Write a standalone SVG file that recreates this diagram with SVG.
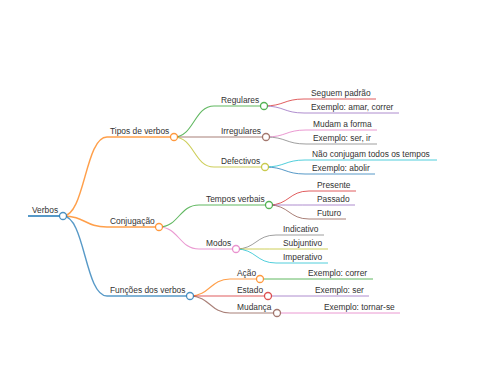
<svg xmlns="http://www.w3.org/2000/svg" width="480" height="384" viewBox="0 0 480 384">
<style>
text{font-family:"Liberation Sans",Arial,sans-serif;font-size:8.4px;fill:#333}
path{fill:none;stroke-opacity:0.75}
circle{fill:#fff;stroke-width:1.3;stroke-opacity:0.8}
.l0{stroke-width:2}
.l1{stroke-width:1.4}
.l2{stroke-width:1.1}
.l3{stroke-width:1}
.blue{stroke:#1f77b4}.orange{stroke:#ff7f0e}.green{stroke:#2ca02c}.red{stroke:#d62728}
.purple{stroke:#9467bd}.brown{stroke:#8c564b}.pink{stroke:#e377c2}.gray{stroke:#7f7f7f}
.olive{stroke:#bcbd22}.cyan{stroke:#17becf}
</style>
<rect width="480" height="384" fill="#fff"/>
<g id="connectors">
<path class="l0 blue" d="M28,216H63"/>
<path class="l1 orange" d="M63,216C85,216 85,137 107,137H174"/>
<path class="l1 orange" d="M63,216C85,216 85,227 107,227H159"/>
<path class="l1 blue" d="M63,216C85,216 85,296 107,296H190"/>
<path class="l2 green" d="M174,137C194,137 194,106 214,106H264"/>
<path class="l2 brown" d="M174,137C194,137 194,137 214,137H266"/>
<path class="l2 olive" d="M174,137C194,137 194,167 214,167H265"/>
<path class="l3 red" d="M264,106C284,106 284,99 304,99H376"/>
<path class="l3 purple" d="M264,106C284,106 284,113 304,113H399"/>
<path class="l3 pink" d="M266,137C286,137 286,130 306,130H377"/>
<path class="l3 gray" d="M266,137C286,137 286,144 306,144H377"/>
<path class="l3 cyan" d="M265,167C285,167 285,160 305,160H437"/>
<path class="l3 blue" d="M265,167C285,167 285,174 305,174H375"/>
<path class="l2 green" d="M159,227C179,227 179,205 199,205H269"/>
<path class="l2 pink" d="M159,227C179,227 179,249 199,249H236"/>
<path class="l3 red" d="M269,205C289,205 289,191 309,191H356"/>
<path class="l3 purple" d="M269,205C289,205 289,205 309,205H355"/>
<path class="l3 brown" d="M269,205C289,205 289,219 309,219H346"/>
<path class="l3 gray" d="M236,249C256,249 256,235 276,235H324"/>
<path class="l3 olive" d="M236,249C256,249 256,249 276,249H328"/>
<path class="l3 cyan" d="M236,249C256,249 256,263 276,263H328"/>
<path class="l2 orange" d="M190,296C210,296 210,279 230,279H260"/>
<path class="l2 red" d="M190,296C210,296 210,296 230,296H268"/>
<path class="l2 brown" d="M190,296C210,296 210,313 230,313H277"/>
<path class="l3 green" d="M260,279H373"/>
<path class="l3 purple" d="M268,296H369"/>
<path class="l3 pink" d="M277,313H400"/>
</g>
<g id="n-verbos"><text x="32" y="212.5">Verbos</text><circle class="blue" cx="63" cy="216" r="3.5"/></g>
<g id="n-tipos"><text x="110" y="133.5">Tipos de verbos</text><circle class="orange" cx="174" cy="137" r="3.5"/></g>
<g id="n-regulares"><text x="221" y="102.5">Regulares</text><circle class="green" cx="264" cy="106" r="3.5"/></g>
<g id="n-seguem"><text x="311" y="95.5">Seguem padrão</text></g>
<g id="n-ex-amar"><text x="311" y="109.5">Exemplo: amar, correr</text></g>
<g id="n-irregulares"><text x="221" y="133.5">Irregulares</text><circle class="brown" cx="266" cy="137" r="3.5"/></g>
<g id="n-mudam"><text x="313" y="126.5">Mudam a forma</text></g>
<g id="n-ex-ser-ir"><text x="313" y="140.5">Exemplo: ser, ir</text></g>
<g id="n-defectivos"><text x="221" y="163.5">Defectivos</text><circle class="olive" cx="265" cy="167" r="3.5"/></g>
<g id="n-nao"><text x="312" y="156.5">Não conjugam todos os tempos</text></g>
<g id="n-ex-abolir"><text x="312" y="170.5">Exemplo: abolir</text></g>
<g id="n-conjugacao"><text x="110" y="223.5">Conjugação</text><circle class="orange" cx="159" cy="227" r="3.5"/></g>
<g id="n-tempos"><text x="206" y="201.5">Tempos verbais</text><circle class="green" cx="269" cy="205" r="3.5"/></g>
<g id="n-presente"><text x="317" y="187.5">Presente</text></g>
<g id="n-passado"><text x="317" y="201.5">Passado</text></g>
<g id="n-futuro"><text x="317" y="215.5">Futuro</text></g>
<g id="n-modos"><text x="206" y="245.5">Modos</text><circle class="pink" cx="236" cy="249" r="3.5"/></g>
<g id="n-indicativo"><text x="283" y="231.5">Indicativo</text></g>
<g id="n-subjuntivo"><text x="283" y="245.5">Subjuntivo</text></g>
<g id="n-imperativo"><text x="283" y="259.5">Imperativo</text></g>
<g id="n-funcoes"><text x="110" y="292.5">Funções dos verbos</text><circle class="blue" cx="190" cy="296" r="3.5"/></g>
<g id="n-acao"><text x="237" y="275.5">Ação</text><circle class="orange" cx="260" cy="279" r="3.5"/></g>
<g id="n-ex-correr"><text x="308" y="275.5">Exemplo: correr</text></g>
<g id="n-estado"><text x="237" y="292.5">Estado</text><circle class="red" cx="268" cy="296" r="3.5"/></g>
<g id="n-ex-ser"><text x="315" y="292.5">Exemplo: ser</text></g>
<g id="n-mudanca"><text x="237" y="309.5">Mudança</text><circle class="brown" cx="277" cy="313" r="3.5"/></g>
<g id="n-ex-tornar"><text x="324" y="309.5">Exemplo: tornar-se</text></g>
</svg>
